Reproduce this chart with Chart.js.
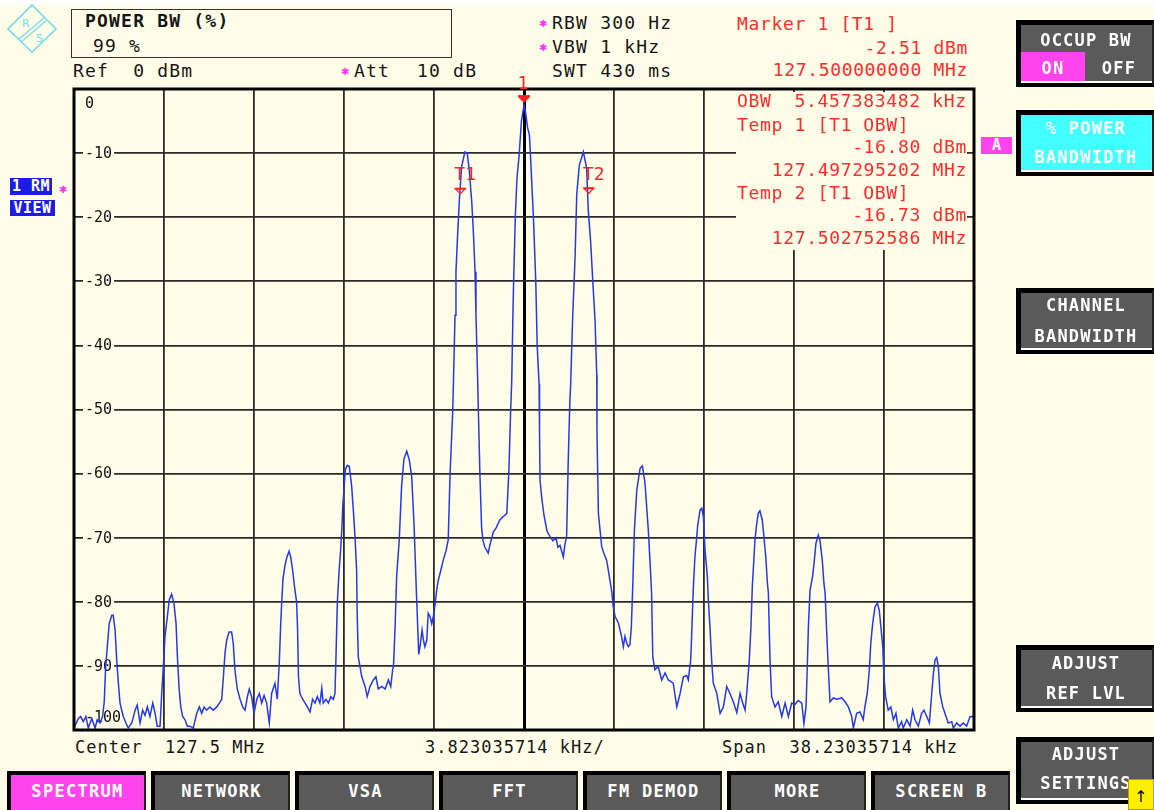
<!DOCTYPE html>
<html><head><meta charset="utf-8">
<script src="https://cdn.jsdelivr.net/npm/chart.js@4/dist/chart.umd.min.js"></script>
<style>
html,body{margin:0;padding:0;}
body{width:1154px;height:810px;background:#fffde8;position:relative;overflow:hidden;font-family:"DejaVu Sans Mono",monospace;}
#c{position:absolute;left:0;top:0;z-index:1;}
.t{position:absolute;white-space:pre;font-size:18px;line-height:18px;letter-spacing:1.2px;color:#161616;}
.b{font-weight:bold;}
.r{position:absolute;white-space:pre;font-size:18px;line-height:18px;letter-spacing:0.65px;color:#ff2b2b;}
.rr{text-align:right;}
.ast{position:absolute;color:#ff33ee;font-size:10px;line-height:10px;font-family:"DejaVu Sans",sans-serif;}
.sk{position:absolute;left:1016px;width:138px;box-sizing:border-box;background:#5a5a5a;border-left:5px solid #000;border-top:5px solid #000;border-right:2px solid #222;border-bottom:4px solid #000;}
.sk::after{content:'';position:absolute;left:0;right:0;bottom:0;height:2px;background:#fff;}
.skt{position:absolute;left:1020px;width:132px;text-align:center;color:#fff;font-weight:bold;font-size:17px;line-height:17px;letter-spacing:1.2px;white-space:pre;z-index:3;}
.bb{position:absolute;top:771px;height:45px;width:139px;box-sizing:border-box;background:#5a5a5a;border-left:4px solid #000;border-top:4px solid #000;border-right:2px solid #222;color:#fff;font-weight:bold;font-size:17px;letter-spacing:1.3px;text-align:center;line-height:32px;white-space:pre;}
#mask{position:absolute;left:736px;top:92px;width:231px;height:158px;background:#fffde8;z-index:2;}
</style></head>
<body>
<div style="position:absolute;left:0;top:0;width:1154px;height:5px;background:#fff"></div>
<svg style="position:absolute;left:5px;top:3px" width="54" height="52" viewBox="0 0 54 52">
<polygon points="27,2 51,26 27,49 3,26" fill="none" stroke="#72dcec" stroke-width="1.6"/>
<text x="17" y="24" font-size="11" fill="#72dcec" font-family="DejaVu Sans">R</text>
<text x="31" y="39" font-size="11" fill="#72dcec" font-family="DejaVu Sans">S</text>
<line x1="14" y1="36" x2="39" y2="15" stroke="#72dcec" stroke-width="1.2"/>
<line x1="16" y1="39" x2="41" y2="18" stroke="#72dcec" stroke-width="1.2"/>
</svg>
<div style="position:absolute;left:71px;top:9px;width:379px;height:47px;border:1.5px solid #333;"></div>
<div class="t b" style="left:85px;top:12px">POWER BW (%)</div>
<div class="t" style="left:93px;top:37px">99 %</div>
<div class="t" style="left:73px;top:62px">Ref  0 dBm</div>
<div class="ast" style="left:341px;top:67px">✱</div>
<div class="t" style="left:354px;top:62px">Att</div>
<div class="t" style="left:417px;top:62px">10 dB</div>
<div class="ast" style="left:539px;top:19px">✱</div>
<div class="t" style="left:552px;top:14px">RBW 300 Hz</div>
<div class="ast" style="left:539px;top:43px">✱</div>
<div class="t" style="left:552px;top:38px">VBW 1 kHz</div>
<div class="t" style="left:552px;top:62px">SWT 430 ms</div>

<div class="r" style="left:737px;top:15px">Marker 1 [T1 ]</div>
<div class="r rr" style="right:186px;top:39px">-2.51 dBm</div>
<div class="r rr" style="right:186px;top:61px">127.500000000 MHz</div>
<div id="mask">
<div class="r" style="left:1px;top:0px">OBW  5.457383482 kHz</div>
<div class="r" style="left:1px;top:24px">Temp 1 [T1 OBW]</div>
<div class="r rr" style="right:0px;top:46px">-16.80 dBm</div>
<div class="r rr" style="right:0px;top:69px">127.497295202 MHz</div>
<div class="r" style="left:1px;top:92px">Temp 2 [T1 OBW]</div>
<div class="r rr" style="right:0px;top:114px">-16.73 dBm</div>
<div class="r rr" style="right:0px;top:137px">127.502752586 MHz</div>
</div>

<div style="position:absolute;left:10px;top:178px;width:42px;height:17px;background:#1c1ce6;color:#fff;font-weight:bold;font-size:15px;line-height:17px;letter-spacing:0.5px;white-space:pre;text-align:center">1 RM</div>
<div style="position:absolute;left:10px;top:200px;width:45px;height:16px;background:#1c1ce6;color:#fff;font-weight:bold;font-size:15px;line-height:16px;letter-spacing:0.5px;text-align:center">VIEW</div>
<div class="ast" style="left:59px;top:185px">✱</div>

<div style="position:absolute;left:981px;top:137px;width:31px;height:17px;background:#ff44ee;color:#fff;font-weight:bold;font-size:15px;line-height:17px;text-align:center">A</div>

<div class="sk" style="top:20px;height:67px"></div>
<div style="position:absolute;left:1021px;top:52px;width:64px;height:29px;background:#ff44ee;z-index:2"></div>
<div class="skt" style="top:32px">OCCUP BW</div>
<div class="skt" style="left:1021px;width:64px;top:60px">ON</div>
<div class="skt" style="left:1087px;width:64px;top:60px">OFF</div>

<div class="sk" style="top:110px;height:66px;background:#44ffff"></div>
<div class="skt" style="top:120px">% POWER</div>
<div class="skt" style="top:149px">BANDWIDTH</div>

<div class="sk" style="top:288px;height:66px"></div>
<div class="skt" style="top:297px">CHANNEL</div>
<div class="skt" style="top:328px">BANDWIDTH</div>

<div class="sk" style="top:645px;height:67px"></div>
<div class="skt" style="top:655px">ADJUST</div>
<div class="skt" style="top:685px">REF LVL</div>

<div class="sk" style="top:737px;height:67px"></div>
<div class="skt" style="top:746px">ADJUST</div>
<div class="skt" style="top:775px">SETTINGS</div>
<div style="position:absolute;left:1128px;top:779px;width:26px;height:31px;box-sizing:border-box;background:#ffee00;border:1px solid #b8a000;color:#000;font-family:'DejaVu Sans';font-size:16px;line-height:34px;text-align:center;z-index:4">↑</div>

<div class="t" style="left:75px;top:738px;font-size:17px;letter-spacing:1px">Center  127.5 MHz</div>
<div class="t" style="left:425px;top:738px;font-size:17px;letter-spacing:1px">3.823035714 kHz/</div>
<div class="t" style="left:722px;top:738px;font-size:17px;letter-spacing:1px">Span  38.23035714 kHz</div>

<div class="bb" style="left:7px;background:#ff44ee">SPECTRUM</div>
<div class="bb" style="left:151px">NETWORK</div>
<div class="bb" style="left:295px">VSA</div>
<div class="bb" style="left:439px">FFT</div>
<div class="bb" style="left:583px">FM DEMOD</div>
<div class="bb" style="left:727px">MORE</div>
<div class="bb" style="left:871px">SCREEN B</div>

<canvas id="c" width="1154" height="810"></canvas>
<script>
// ---- settings ----
const centerMHz = 127.5;
const spanKHz = 38.23035714;
const refLevelDbm = 0;
const bottomLevelDbm = -100;
const yTicks = [0,-10,-20,-30,-40,-50,-60,-70,-80,-90,-100];

// ---- trace 1 (frequency offset from centre in kHz, level in dBm) ----
const freqKHz = [
-19.12,-18.93,-18.83,-18.72,-18.61,-18.51,-18.36,-18.22,-18.13,-18.01,
-17.90,-17.83,-17.77,-17.70,-17.62,-17.51,-17.45,-17.37,-17.30,-17.23,
-17.16,-17.09,-17.02,-16.91,-16.81,-16.66,-16.52,-16.43,-16.31,-16.20,
-16.10,-16.00,-15.89,-15.77,-15.67,-15.58,-15.46,-15.39,-15.32,-15.25,
-15.15,-15.07,-14.97,-14.87,-14.78,-14.73,-14.65,-14.58,-14.50,-14.40,
-14.30,-14.19,-14.05,-13.90,-13.79,-13.69,-13.59,-13.48,-13.34,-13.20,
-13.05,-12.94,-12.84,-12.77,-12.70,-12.63,-12.53,-12.42,-12.35,-12.28,
-12.18,-12.06,-11.95,-11.85,-11.75,-11.67,-11.57,-11.47,-11.35,-11.24,
-11.14,-11.04,-10.93,-10.82,-10.72,-10.58,-10.48,-10.39,-10.34,-10.29,
-10.24,-10.15,-10.07,-9.98,-9.91,-9.83,-9.75,-9.66,-9.62,-9.58,
-9.52,-9.40,-9.30,-9.20,-9.09,-8.98,-8.88,-8.78,-8.67,-8.59,
-8.53,-8.41,-8.31,-8.21,-8.10,-8.03,-7.99,-7.93,-7.86,-7.79,
-7.74,-7.70,-7.65,-7.59,-7.51,-7.42,-7.32,-7.25,-7.18,-7.11,
-7.09,-7.04,-6.89,-6.75,-6.66,-6.54,-6.40,-6.29,-6.19,-6.04,
-5.90,-5.76,-5.66,-5.58,-5.54,-5.47,-5.41,-5.30,-5.20,-5.10,
-4.98,-4.87,-4.77,-4.67,-4.57,-4.47,-4.40,-4.33,-4.27,-4.21,
-4.13,-4.07,-3.99,-3.92,-3.85,-3.78,-3.71,-3.64,-3.54,-3.43,
-3.31,-3.22,-3.14,-3.03,-3.00,-2.93,-2.89,-2.82,-2.75,-2.65,
-2.51,-2.41,-2.32,-2.22,-2.15,-2.08,-2.04,-1.97,-1.94,-1.87,
-1.80,-1.74,-1.66,-1.52,-1.44,-1.30,-1.19,-1.02,-0.88,-0.73,
-0.64,-0.57,-0.52,-0.47,-0.44,-0.37,-0.30,-0.20,-0.11,0.00,
0.06,0.15,0.23,0.27,0.40,0.50,0.56,0.64,0.66,0.68,
0.76,0.85,0.98,1.10,1.23,1.36,1.44,1.53,1.67,1.74,
1.81,1.88,1.95,1.98,2.07,2.17,2.24,2.35,2.52,2.66,
2.73,2.83,2.92,3.02,3.09,3.10,3.16,3.30,3.40,3.51,
3.65,3.73,3.79,3.87,3.94,4.01,4.15,4.22,4.29,4.36,
4.43,4.50,4.56,4.62,4.69,4.79,4.93,5.03,5.14,5.28,
5.35,5.42,5.47,5.56,5.70,5.85,5.99,6.13,6.34,6.49,
6.63,6.77,6.91,6.98,7.08,7.12,7.19,7.26,7.34,7.38,
7.48,7.55,7.62,7.69,7.79,7.83,7.90,7.97,8.04,8.19,
8.33,8.47,8.61,8.75,8.89,9.04,9.18,9.29,9.39,9.46,
9.57,9.64,9.70,9.74,9.81,9.88,9.95,10.02,10.12,10.19,
10.27,10.34,10.38,10.45,10.52,10.66,10.80,10.95,11.09,11.23,
11.37,11.51,11.65,11.80,11.89,11.98,12.03,12.08,12.15,12.26,
12.32,12.40,12.50,12.57,12.67,12.74,12.79,12.86,12.93,13.00,
13.14,13.28,13.50,13.64,13.78,13.92,13.99,14.13,14.27,14.41,
14.48,14.58,14.67,14.73,14.81,14.91,15.01,15.09,15.16,15.24,
15.29,15.36,15.47,15.58,15.69,15.80,15.90,16.04,16.11,16.26,
16.40,16.51,16.61,16.75,16.89,16.99,17.11,17.22,17.32,17.39,
17.46,17.53,17.60,17.67,17.79,17.88,18.02,18.17,18.24,18.38,
18.52,18.66,18.80,18.95,19.06,19.12
];
const levelDbm = [
-99.7,-98.2,-97.9,-98.7,-97.9,-99.7,-98.2,-99.7,-98.4,-98.9,
-97.9,-95.6,-90.1,-87,-83.4,-82.1,-82.1,-84.4,-89.1,-92.7,
-95.8,-96.9,-97.9,-98.9,-99.7,-98.9,-96.9,-96.1,-98.9,-96.9,
-97.7,-96.4,-97.9,-95.8,-97.4,-99.4,-99.4,-94.3,-90.1,-85.4,
-82.3,-79.7,-78.8,-80.2,-83.4,-88,-93.6,-96.4,-97.9,-98.4,
-99.4,-99.4,-99.7,-97.4,-96.4,-97.4,-96.4,-96.9,-96.4,-96.9,
-96.4,-95.8,-95.2,-91.7,-88,-86,-84.7,-84.7,-86.5,-90.6,
-93.6,-95.2,-96.4,-96.9,-94.8,-93.6,-94.8,-97.4,-95.2,-94.3,
-95.8,-94.6,-95.8,-98.9,-94.3,-92.7,-95.2,-89.1,-83.9,-80,
-76.5,-74.3,-73,-72.1,-73,-75,-77.6,-80,-84,-91.7,
-94.3,-95.2,-95.8,-96.4,-97.2,-95.2,-95.8,-94.8,-95.8,-93.5,
-95.8,-95.2,-95.8,-94.8,-95.2,-94.3,-89.1,-80.2,-75.5,-72,
-68.8,-65.2,-62.6,-59.4,-58.7,-58.9,-62,-65.7,-69.8,-75,
-81.3,-88.6,-91.7,-93.2,-94.8,-93.2,-92.2,-91.7,-93.6,-93.2,
-93.6,-92.2,-93.2,-90.6,-89.8,-83.3,-76,-70.4,-62,-57.7,
-56.5,-57.9,-60.5,-68,-78.6,-88.2,-86.5,-84.4,-86,-87,
-86,-81.8,-82.3,-83.4,-82.3,-80.5,-78.2,-76.6,-75.2,-73.5,
-72,-70.4,-60,-50.5,-46.2,-35.3,-28.5,-22.8,-17.6,-12.1,
-9.8,-10,-12.9,-17.6,-22.3,-28.5,-35.3,-45.1,-50,-60.5,
-68.5,-70.5,-71.5,-72.4,-71,-69.1,-68.5,-67.2,-66.7,-66.2,
-59.4,-50.5,-45.4,-35,-30,-20,-14,-10,-5,-2.51,
-3.5,-6,-7.2,-10,-20,-30,-40,-46,-53.5,-61,
-64,-66.5,-69,-69.8,-70.5,-70,-71.5,-71.2,-73,-71,
-69.8,-57.9,-48.5,-46.2,-35.3,-26.2,-16.5,-11.9,-9.8,-12.3,
-18.9,-23.8,-29.8,-36.3,-44.6,-53.5,-66.2,-71.4,-72.5,-73.5,
-76.6,-78.5,-80.8,-82.3,-82.8,-83.3,-85.5,-87,-85.4,-86.4,
-87,-86.7,-83.9,-77.5,-68.8,-62.6,-59.2,-58.8,-61.5,-68.8,
-73.5,-78.7,-88.6,-90.6,-90.1,-92.2,-91.1,-92.2,-92.7,-96.4,
-94.3,-91.7,-91.5,-92.2,-89.1,-85.4,-78,-73,-69.8,-68,
-65.7,-65.4,-66.7,-71.9,-76.1,-79.7,-83.9,-89.1,-92.7,-94.3,
-97.4,-96.4,-93.2,-94.3,-95.6,-97.3,-94.3,-95.8,-96.9,-94.3,
-89.1,-83.9,-77.5,-75,-70.4,-68,-66.2,-65.8,-67.2,-69.8,
-73,-77.1,-78.6,-89.1,-94.8,-96.4,-95.6,-97.9,-95.8,-97.9,
-95.8,-96,-95.4,-95.8,-99,-96.4,-90.6,-83.9,-78.2,-76,
-74,-70.9,-69.6,-70.4,-73.5,-77.1,-78.6,-84.9,-90.6,-95.6,
-95,-95.2,-95,-95.6,-96.4,-97.9,-99.7,-97.4,-97.2,-98.4,
-96.4,-94.3,-90.6,-86.5,-83.4,-80.8,-80.2,-81.3,-83.9,-87,
-91.7,-94.8,-96.9,-96.4,-98.4,-97.4,-99.7,-98.7,-99.7,-98.4,
-99.4,-96.9,-98.4,-99.4,-97.4,-96.9,-97.9,-98.9,-94.3,-91.2,
-89.1,-88.7,-90.1,-94.3,-96.4,-97.4,-98.9,-98.7,-99.7,-98.9,
-99.4,-98.9,-99.4,-97.9,-97.9,-98.4
];

// ---- markers ----
const markerNames = ['1','T1','T2'];
const markerFreqKHz = [0, -2.704798, 2.752586];
const markerLevelDbm = [-2.51, -16.80, -16.73];

const cream = '#fffde8';
const xGrid = [];
for (let i = 0; i <= 10; i++) xGrid.push(-spanKHz/2 + i*spanKHz/10);

const yLabelPlugin = {
  id:'ylabels',
  beforeDatasetsDraw(c){
    const {ctx, scales:{y}, chartArea:a} = c;
    ctx.save();
    ctx.font = '15px "DejaVu Sans Mono"';
    ctx.textBaseline = 'middle';
    yTicks.forEach(v=>{
      const txt = String(v);
      let cy = y.getPixelForValue(v);
      const x0 = a.left + 11;
      const w = ctx.measureText(txt).width;
      if (v === refLevelDbm) cy += 14;
      else if (v === bottomLevelDbm) cy -= 13;
      else { ctx.fillStyle = cream; ctx.fillRect(x0-2, cy-3, w+4, 6); }
      ctx.fillStyle = '#141414';
      ctx.fillText(txt, x0, cy+1);
    });
    ctx.restore();
  }
};

const frameMarkerPlugin = {
  id:'frameMarkers',
  afterDatasetsDraw(c){
    const {ctx, scales:{x,y}, chartArea:a} = c;
    ctx.save();
    ctx.strokeStyle = '#000';
    ctx.lineWidth = 3;
    ctx.strokeRect(a.left, a.top, a.right-a.left, a.bottom-a.top);
    ctx.fillStyle = '#ff2020';
    ctx.strokeStyle = '#ff2020';
    ctx.lineWidth = 1.3;
    ctx.font = '18px "DejaVu Sans Mono"';
    ctx.textBaseline = 'middle';
    markerNames.forEach((n,i)=>{
      const px = x.getPixelForValue(markerFreqKHz[i]);
      const py = y.getPixelForValue(markerLevelDbm[i]);
      if (i === 0) {
        const tip = py - 2;
        ctx.beginPath(); ctx.moveTo(px-6, tip-6); ctx.lineTo(px+6, tip-6); ctx.lineTo(px, tip); ctx.closePath(); ctx.fill();
        ctx.fillRect(px-6, tip-8, 12, 2);
        ctx.textAlign = 'center';
        ctx.fillText(n, px-1, tip-19);
      } else {
        const tip = py - 3;
        ctx.beginPath(); ctx.moveTo(px-5, tip-5); ctx.lineTo(px+5, tip-5); ctx.lineTo(px, tip); ctx.closePath(); ctx.stroke();
        ctx.fillRect(px-5, tip-6, 10, 2);
        ctx.textAlign = 'left';
        ctx.fillText(n, px-6, tip-18);
      }
    });
    ctx.restore();
  }
};

new Chart(document.getElementById('c'), {
  type:'line',
  data:{datasets:[{
    data: freqKHz.map((f,i)=>({x:f, y:levelDbm[i]})),
    borderColor:'#2438ee', borderWidth:1.5, pointRadius:0, tension:0, fill:false
  }]},
  options:{
    responsive:false, animation:false, events:[],
    layout:{padding:{left:74, top:89, right:180, bottom:80}},
    plugins:{legend:{display:false}, tooltip:{enabled:false}},
    scales:{
      x:{type:'linear', min:-spanKHz/2, max:spanKHz/2,
        afterBuildTicks:s=>{ s.ticks = xGrid.map(v=>({value:v})); },
        afterFit:s=>{ s.height = 0; },
        ticks:{display:false},
        border:{display:false},
        grid:{drawTicks:false, color:c=> (c.tick && Math.abs(c.tick.value)<1e-6) ? '#000' : '#2a2a2a',
              lineWidth:c=> (c.tick && Math.abs(c.tick.value)<1e-6) ? 3 : 1.8}},
      y:{type:'linear', min:bottomLevelDbm, max:refLevelDbm,
        afterBuildTicks:s=>{ s.ticks = yTicks.map(v=>({value:v})); },
        afterFit:s=>{ s.width = 0; },
        ticks:{display:false},
        border:{display:false},
        grid:{drawTicks:false, color:'#2a2a2a', lineWidth:1.8}}
    }
  },
  plugins:[yLabelPlugin, frameMarkerPlugin]
});
</script>
</body></html>
